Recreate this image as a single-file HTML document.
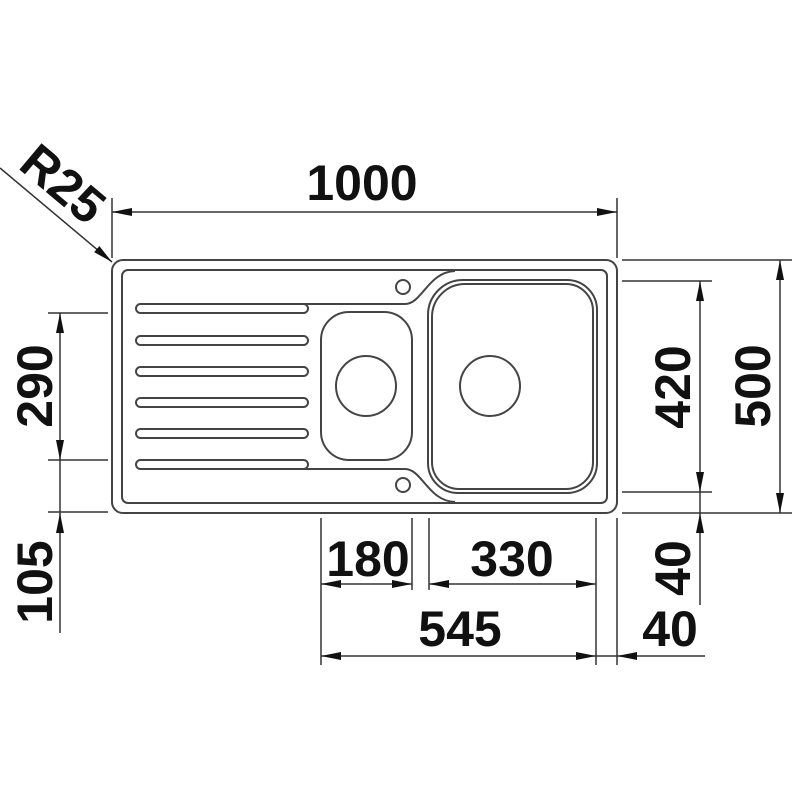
<!DOCTYPE html>
<html><head><meta charset="utf-8"><style>
html,body{margin:0;padding:0;background:#fff}
svg{display:block}
text{font-family:"Liberation Sans",sans-serif;font-weight:bold;font-size:50px;fill:#111}
</style></head><body>
<svg width="800" height="800" viewBox="0 0 800 800" xmlns="http://www.w3.org/2000/svg">
<defs>
<marker id="a" viewBox="0 0 20 8" refX="20" refY="4" markerWidth="20" markerHeight="8" markerUnits="userSpaceOnUse" orient="auto">
<path d="M0,0 L20,4 L0,8 Z" fill="#111"/>
</marker>
</defs>
<g fill="none" stroke="#444" stroke-width="2">
<rect x="112" y="260" width="505" height="253" rx="11"/>
<rect x="122" y="270" width="485" height="233" rx="6"/>
<rect x="136" y="304" width="172" height="9" rx="4.5"/>
<rect x="136" y="336" width="172" height="9" rx="4.5"/>
<rect x="136" y="367" width="172" height="9" rx="4.5"/>
<rect x="136" y="398" width="172" height="9" rx="4.5"/>
<rect x="136" y="429" width="172" height="9" rx="4.5"/>
<rect x="136" y="460" width="172" height="9" rx="4.5"/>
<path d="M300,304 H405 C422,304 428,272 455,271"/>
<path d="M300,469 H405 C422,469 428,501 455,502"/>
<rect x="321" y="312" width="91" height="148" rx="28"/>
<circle cx="366" cy="386" r="30"/>
<path d="M463,280 H567 A30,30 0 0 1 597,310 V463 A30,30 0 0 1 567,493 H458 A30,30 0 0 1 428,463 V315 A35,35 0 0 1 463,280 Z"/>
<path d="M465,284 H566 A27,27 0 0 1 593,311 V462 A27,27 0 0 1 566,489 H459 A27,27 0 0 1 432,462 V317 A33,33 0 0 1 465,284 Z"/>
<circle cx="490" cy="386" r="30"/>
<circle cx="403" cy="287" r="7"/>
<circle cx="403" cy="485" r="7"/>
</g>
<g fill="none" stroke="#333" stroke-width="1.5">
<line x1="112" y1="198" x2="112" y2="258"/>
<line x1="617" y1="198" x2="617" y2="258"/>
<line x1="48" y1="313" x2="108" y2="313"/>
<line x1="48" y1="460" x2="108" y2="460"/>
<line x1="48" y1="512" x2="108" y2="512"/>
<line x1="622" y1="260" x2="792" y2="260"/>
<line x1="622" y1="281" x2="712" y2="281"/>
<line x1="622" y1="492" x2="712" y2="492"/>
<line x1="622" y1="513" x2="792" y2="513"/>
<line x1="321" y1="518" x2="321" y2="665"/>
<line x1="412" y1="518" x2="412" y2="590"/>
<line x1="429" y1="518" x2="429" y2="590"/>
<line x1="596" y1="518" x2="596" y2="665"/>
<line x1="617" y1="518" x2="617" y2="665"/>
<line x1="112" y1="212" x2="617" y2="212"/>
<line x1="60" y1="313" x2="60" y2="633"/>
<line x1="700" y1="281" x2="700" y2="605"/>
<line x1="780" y1="260" x2="780" y2="513"/>
<line x1="321" y1="584" x2="412" y2="584"/>
<line x1="429" y1="584" x2="596" y2="584"/>
<line x1="321" y1="656" x2="705" y2="656"/>
<line x1="0" y1="168" x2="112" y2="262"/>
</g>
<g stroke="none">
<line x1="150" y1="212" x2="112" y2="212" stroke="#111" stroke-width="0" marker-end="url(#a)"/>
<line x1="580" y1="212" x2="617" y2="212" stroke="#111" stroke-width="0" marker-end="url(#a)"/>
<line x1="60" y1="350" x2="60" y2="313" stroke="#111" stroke-width="0" marker-end="url(#a)"/>
<line x1="60" y1="420" x2="60" y2="460" stroke="#111" stroke-width="0" marker-end="url(#a)"/>
<line x1="60" y1="550" x2="60" y2="513" stroke="#111" stroke-width="0" marker-end="url(#a)"/>
<line x1="700" y1="320" x2="700" y2="281" stroke="#111" stroke-width="0" marker-end="url(#a)"/>
<line x1="700" y1="455" x2="700" y2="492" stroke="#111" stroke-width="0" marker-end="url(#a)"/>
<line x1="700" y1="550" x2="700" y2="513" stroke="#111" stroke-width="0" marker-end="url(#a)"/>
<line x1="780" y1="300" x2="780" y2="260" stroke="#111" stroke-width="0" marker-end="url(#a)"/>
<line x1="780" y1="475" x2="780" y2="513" stroke="#111" stroke-width="0" marker-end="url(#a)"/>
<line x1="360" y1="584" x2="321" y2="584" stroke="#111" stroke-width="0" marker-end="url(#a)"/>
<line x1="370" y1="584" x2="412" y2="584" stroke="#111" stroke-width="0" marker-end="url(#a)"/>
<line x1="470" y1="584" x2="429" y2="584" stroke="#111" stroke-width="0" marker-end="url(#a)"/>
<line x1="555" y1="584" x2="596" y2="584" stroke="#111" stroke-width="0" marker-end="url(#a)"/>
<line x1="360" y1="656" x2="321" y2="656" stroke="#111" stroke-width="0" marker-end="url(#a)"/>
<line x1="555" y1="656" x2="596" y2="656" stroke="#111" stroke-width="0" marker-end="url(#a)"/>
<line x1="655" y1="656" x2="617" y2="656" stroke="#111" stroke-width="0" marker-end="url(#a)"/>
<line x1="80" y1="235" x2="112" y2="262" stroke="#111" stroke-width="0" marker-end="url(#a)"/>
</g>
<text x="362" y="200" text-anchor="middle">1000</text>
<text transform="translate(52,197) rotate(40)" text-anchor="middle">R25</text>
<text transform="translate(52,386) rotate(-90)" text-anchor="middle">290</text>
<text transform="translate(52,582) rotate(-90)" text-anchor="middle">105</text>
<text transform="translate(690,387) rotate(-90)" text-anchor="middle">420</text>
<text transform="translate(770,386) rotate(-90)" text-anchor="middle">500</text>
<text transform="translate(690,568) rotate(-90)" text-anchor="middle">40</text>
<text x="368" y="576" text-anchor="middle">180</text>
<text x="512" y="576" text-anchor="middle">330</text>
<text x="460" y="646" text-anchor="middle">545</text>
<text x="670" y="646" text-anchor="middle">40</text>
</svg>
</body></html>
